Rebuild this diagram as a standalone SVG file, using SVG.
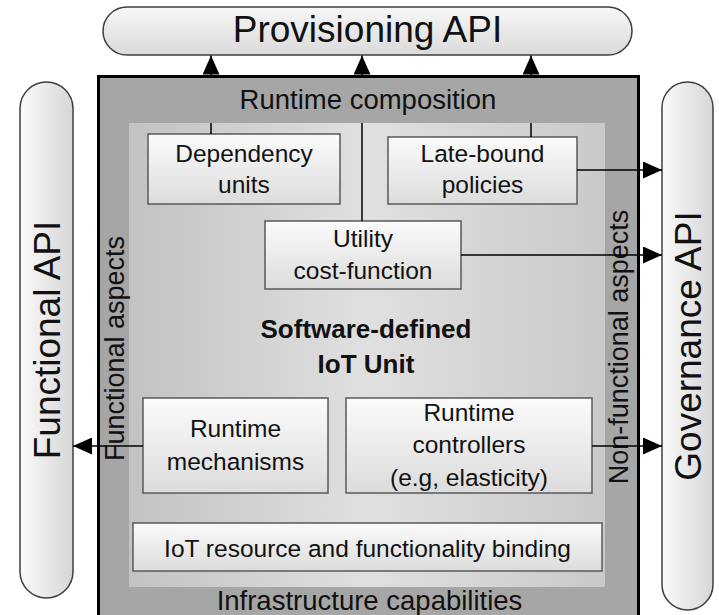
<svg xmlns="http://www.w3.org/2000/svg" width="719" height="615" viewBox="0 0 719 615">
<style>
text{font-family:"Liberation Sans",Arial,sans-serif;fill:#111;text-anchor:middle}
.pill{stroke:#3f3f3f;stroke-width:1.5}
.api{font-size:37px}
.box{fill:url(#boxg);stroke:#5a5a5a;stroke-width:1.5}
.lbl{font-size:24.5px}
.layer{font-size:27.5px}
.asp{font-size:27px}
.title{font-size:26px;font-weight:bold}
.conn{fill:none;stroke:#000;stroke-width:1.5}
</style>
<defs>
<linearGradient id="pillv" x1="0" y1="0" x2="1" y2="0"><stop offset="0" stop-color="#fbfbfb"/><stop offset="1" stop-color="#d6d6d6"/></linearGradient>
<linearGradient id="pillh" x1="0" y1="0" x2="0" y2="1"><stop offset="0" stop-color="#f7f7f7"/><stop offset="1" stop-color="#dadada"/></linearGradient>
<linearGradient id="inner" x1="0" y1="0" x2="1" y2="0"><stop offset="0" stop-color="#c2c2c2"/><stop offset="0.5" stop-color="#e0e0e0"/><stop offset="1" stop-color="#c9c9c9"/></linearGradient>
<linearGradient id="boxg" x1="0" y1="0" x2="0" y2="1"><stop offset="0" stop-color="#fbfbfb"/><stop offset="1" stop-color="#dcdcdc"/></linearGradient>
<marker id="ah" markerUnits="userSpaceOnUse" markerWidth="19" markerHeight="17" refX="19" refY="8.5" orient="auto" viewBox="0 0 19 17"><path d="M0,0 L19,8.5 L0,17 z" fill="#000"/></marker>
</defs>

<g id="provisioning-api">
<rect class="pill" x="103" y="7" width="529" height="48" rx="24" fill="url(#pillh)"/>
<text class="api" x="367.5" y="42">Provisioning API</text>
</g>
<g id="functional-api">
<rect class="pill" x="20" y="82" width="53" height="516" rx="26.5" fill="url(#pillv)"/>
<text class="api" transform="translate(60,340) rotate(-90)">Functional API</text>
</g>
<g id="governance-api">
<rect class="pill" x="662" y="82" width="51" height="528" rx="25.5" fill="url(#pillv)"/>
<text class="api" transform="translate(701,346) rotate(-90)">Governance API</text>
</g>

<g id="iot-unit">
<rect x="98.5" y="76.5" width="540" height="570" fill="#a6a6a6" stroke="#000" stroke-width="3"/>
<rect x="129" y="123" width="476" height="464" fill="url(#inner)"/>
<text class="layer" x="368" y="109">Runtime composition</text>
<text class="layer" x="369.5" y="610">Infrastructure capabilities</text>
<text class="asp" transform="translate(124,348.5) rotate(-90)">Functional aspects</text>
<text class="asp" transform="translate(628,347) rotate(-90)">Non-functional aspects</text>
<text class="title" x="366" y="338">Software-defined</text>
<text class="title" x="366" y="373">IoT Unit</text>
</g>

<g id="dependency-units">
<rect class="box" x="148" y="134" width="192" height="70"/>
<text class="lbl" x="244" y="162">Dependency</text>
<text class="lbl" x="244" y="193">units</text>
</g>
<g id="late-bound-policies">
<rect class="box" x="388" y="137" width="189" height="67"/>
<text class="lbl" x="482.5" y="162">Late-bound</text>
<text class="lbl" x="482.5" y="193">policies</text>
</g>
<g id="utility-cost-function">
<rect class="box" x="265" y="221" width="196" height="68"/>
<text class="lbl" x="363" y="247">Utility</text>
<text class="lbl" x="363" y="279">cost-function</text>
</g>
<g id="runtime-mechanisms">
<rect class="box" x="143" y="398" width="185" height="95"/>
<text class="lbl" x="235.5" y="437">Runtime</text>
<text class="lbl" x="235.5" y="470">mechanisms</text>
</g>
<g id="runtime-controllers">
<rect class="box" x="346" y="398" width="246" height="95"/>
<text class="lbl" x="469" y="421">Runtime</text>
<text class="lbl" x="469" y="453">controllers</text>
<text class="lbl" x="469" y="486">(e.g, elasticity)</text>
</g>
<g id="iot-resource-binding">
<rect class="box" x="133" y="523" width="469" height="48"/>
<text class="lbl" x="367.5" y="557">IoT resource and functionality binding</text>
</g>

<g id="connectors">
<path class="conn" d="M211,134 V123 M211,78 V55.5" marker-end="url(#ah)"/>
<path class="conn" d="M362,221 V123 M362,78 V55.5" marker-end="url(#ah)"/>
<path class="conn" d="M531,137 V123 M531,78 V55.5" marker-end="url(#ah)"/>
<path class="conn" d="M577,170 H662" marker-end="url(#ah)"/>
<path class="conn" d="M461,255 H662" marker-end="url(#ah)"/>
<path class="conn" d="M592,446 H662" marker-end="url(#ah)"/>
<path class="conn" d="M143,446 H73" marker-end="url(#ah)"/>
</g>
</svg>
